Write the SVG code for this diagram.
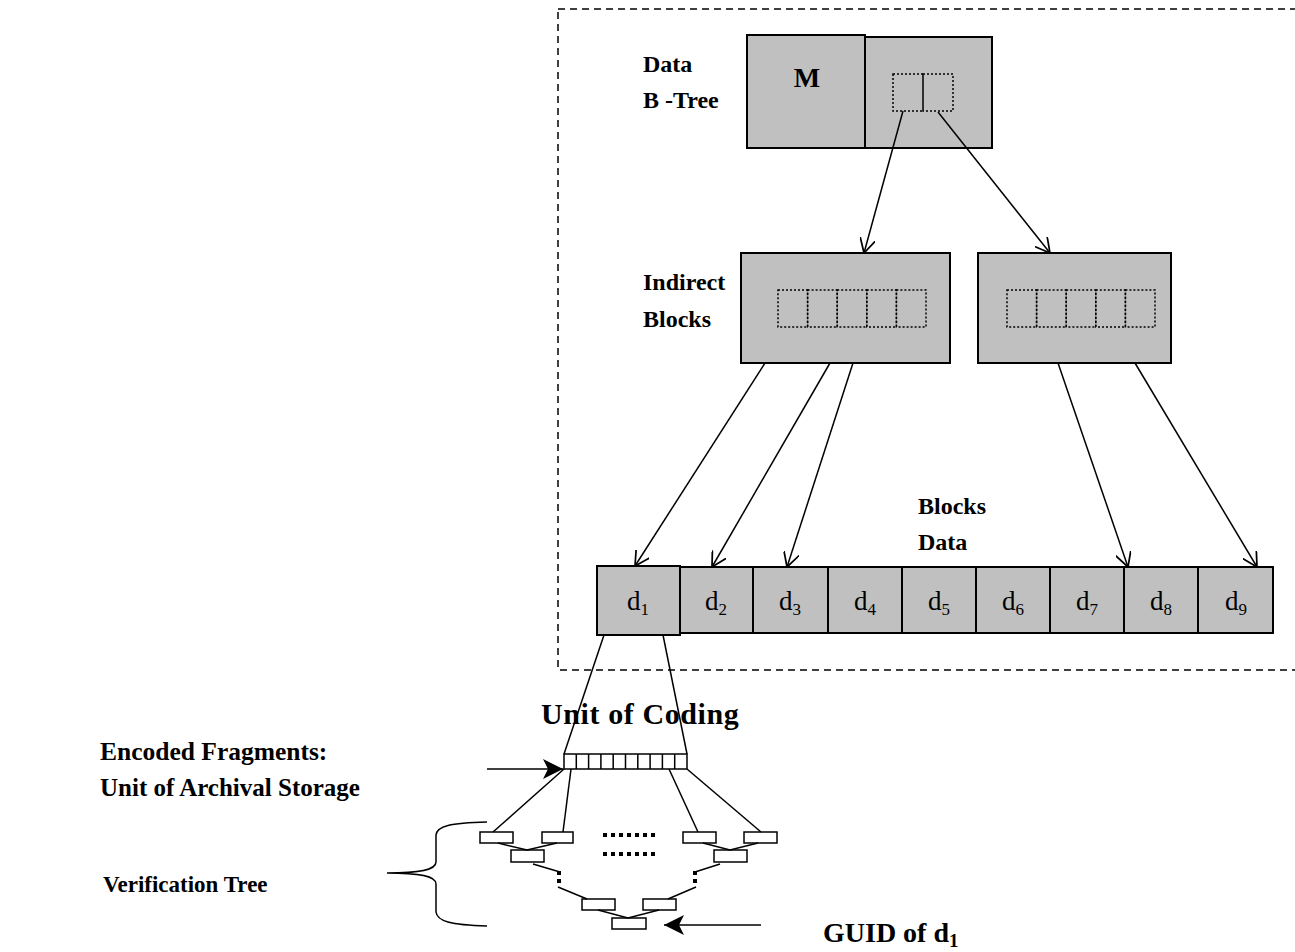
<svg xmlns="http://www.w3.org/2000/svg" width="1295" height="952" viewBox="0 0 1295 952">
<defs>
<style>
.box{fill:#c0c0c0;stroke:#000;stroke-width:2}
.dot{fill:none;stroke:#000;stroke-width:1.5;stroke-dasharray:2 2}
.ln{fill:none;stroke:#000;stroke-width:1.5}
.wb{fill:#fff;stroke:#000;stroke-width:1.5}
.lbl{font-family:"Liberation Serif","Times New Roman",serif;font-weight:bold;font-size:24px;fill:#000}
.dl{font-family:"Liberation Serif","Times New Roman",serif;font-size:27px;fill:#000;text-anchor:middle}
.thd{fill:none;stroke:#000;stroke-width:4;stroke-dasharray:4 4}
</style>
<marker id="open" viewBox="0 0 12 12" refX="11" refY="6" markerWidth="16" markerHeight="16" markerUnits="userSpaceOnUse" orient="auto">
<path d="M0,0 L11,6 L0,12" fill="none" stroke="#000" stroke-width="1.3"/>
</marker>
<marker id="fill" viewBox="0 0 12 12" refX="12" refY="6" markerWidth="20" markerHeight="20" markerUnits="userSpaceOnUse" orient="auto">
<path d="M0,0 L12,6 L0,12 L3,6 Z" fill="#000"/>
</marker>
</defs>
<rect x="558" y="9" width="760" height="661" fill="none" stroke="#000" stroke-width="1.5" stroke-dasharray="7 5"/>

<g id="btree">
<rect class="box" x="747" y="35" width="118" height="113"/>
<rect class="box" x="865" y="37" width="127" height="111"/>
<rect class="dot" x="893" y="74" width="30" height="37"/>
<rect class="dot" x="923" y="74" width="30" height="37"/>
<text class="dl" x="807" y="87" style="font-weight:bold;font-size:28px">M</text>
</g>
<g id="label-btree">
<text class="lbl" x="643" y="72">Data</text>
<text class="lbl" x="643" y="108">B -Tree</text>
</g>

<g id="indirect-left">
<rect class="box" x="741" y="253" width="209" height="110"/>
<rect class="dot" x="778" y="290" width="29.6" height="37"/>
<rect class="dot" x="807.6" y="290" width="29.6" height="37"/>
<rect class="dot" x="837.2" y="290" width="29.6" height="37"/>
<rect class="dot" x="866.8" y="290" width="29.6" height="37"/>
<rect class="dot" x="896.4" y="290" width="29.6" height="37"/>
</g>
<g id="indirect-right">
<rect class="box" x="978" y="253" width="193" height="110"/>
<rect class="dot" x="1007" y="290" width="29.6" height="37"/>
<rect class="dot" x="1036.6" y="290" width="29.6" height="37"/>
<rect class="dot" x="1066.2" y="290" width="29.6" height="37"/>
<rect class="dot" x="1095.8" y="290" width="29.6" height="37"/>
<rect class="dot" x="1125.4" y="290" width="29.6" height="37"/>
</g>
<g id="label-indirect">
<text class="lbl" x="643" y="290">Indirect</text>
<text class="lbl" x="643" y="327">Blocks</text>
</g>

<g id="data-blocks">
<rect class="box" x="680" y="567" width="73" height="66"/>
<rect class="box" x="753" y="567" width="75" height="66"/>
<rect class="box" x="828" y="567" width="74" height="66"/>
<rect class="box" x="902" y="567" width="74" height="66"/>
<rect class="box" x="976" y="567" width="74" height="66"/>
<rect class="box" x="1050" y="567" width="74" height="66"/>
<rect class="box" x="1124" y="567" width="74" height="66"/>
<rect class="box" x="1198" y="567" width="75" height="66"/>
<rect class="box" x="597" y="566" width="83" height="69"/>
<text class="dl" x="638" y="610">d<tspan font-size="17" dy="5">1</tspan></text>
<text class="dl" x="716" y="610">d<tspan font-size="17" dy="5">2</tspan></text>
<text class="dl" x="790" y="610">d<tspan font-size="17" dy="5">3</tspan></text>
<text class="dl" x="865" y="610">d<tspan font-size="17" dy="5">4</tspan></text>
<text class="dl" x="939" y="610">d<tspan font-size="17" dy="5">5</tspan></text>
<text class="dl" x="1013" y="610">d<tspan font-size="17" dy="5">6</tspan></text>
<text class="dl" x="1087" y="610">d<tspan font-size="17" dy="5">7</tspan></text>
<text class="dl" x="1161" y="610">d<tspan font-size="17" dy="5">8</tspan></text>
<text class="dl" x="1236" y="610">d<tspan font-size="17" dy="5">9</tspan></text>
</g>
<g id="label-data">
<text class="lbl" x="918" y="514">Blocks</text>
<text class="lbl" x="918" y="550">Data</text>
</g>

<g id="coding-unit">
<rect class="wb" x="564" y="754" width="123" height="15"/>
<path class="ln" d="M576.3,754V769M588.6,754V769M600.9,754V769M613.2,754V769M625.5,754V769M637.8,754V769M650.1,754V769M662.4,754V769M674.7,754V769"/>
<text class="lbl" x="541" y="724" style="font-size:30px;letter-spacing:0.6px">Unit of Coding</text>
</g>

<g id="verification-tree">
<rect class="wb" x="480" y="832" width="33" height="11"/>
<rect class="wb" x="542" y="832" width="31" height="11"/>
<rect class="wb" x="683" y="832" width="33" height="11"/>
<rect class="wb" x="744" y="832" width="33" height="11"/>
<rect class="wb" x="511" y="850" width="33" height="12"/>
<rect class="wb" x="714" y="850" width="33" height="12"/>
<rect class="wb" x="582" y="899" width="33" height="11"/>
<rect class="wb" x="643" y="899" width="33" height="11"/>
<rect class="wb" x="612" y="918" width="34" height="11"/>
<path class="thd" d="M603,835H658M603,854H658"/>
<path class="thd" d="M559,871V885M695,871V885"/>
<path class="ln" d="M498,843L527,850L557,843M703,843L730,850L758,843"/>
<path class="ln" d="M533,864L560,872M558,887L587,899M720,864L695,872M696,887L668,899"/>
<path class="ln" d="M598,910L628,918L659,910"/>
</g>

<g id="labels-left">
<text class="lbl" x="100" y="760" style="font-size:25.5px">Encoded Fragments:</text>
<text class="lbl" x="100" y="796" style="font-size:25px">Unit of Archival Storage</text>
<text class="lbl" x="103" y="892" style="font-size:23px">Verification Tree</text>
<text class="lbl" x="823" y="942" style="font-size:28px">GUID of d<tspan font-size="19" dy="5">1</tspan></text>
</g>

<g id="brace">
<path class="ln" d="M487,822C450,823 437,826 436,835V862C436,870 420,873 387,873C420,873 436,876 436,884V912C437,921 450,925 487,926"/>
</g>

<g id="connectors">
<line class="ln" x1="903" y1="111" x2="864" y2="253" marker-end="url(#open)"/>
<line class="ln" x1="938" y1="112" x2="1050" y2="253" marker-end="url(#open)"/>
<line class="ln" x1="765" y1="363" x2="635" y2="566" marker-end="url(#open)"/>
<line class="ln" x1="830" y1="363" x2="712" y2="567" marker-end="url(#open)"/>
<line class="ln" x1="853" y1="363" x2="787" y2="567" marker-end="url(#open)"/>
<line class="ln" x1="1058" y1="363" x2="1128" y2="567" marker-end="url(#open)"/>
<line class="ln" x1="1135" y1="363" x2="1257" y2="567" marker-end="url(#open)"/>
<line class="ln" x1="604" y1="635" x2="564" y2="754"/>
<line class="ln" x1="663" y1="635" x2="687" y2="754"/>
<line class="ln" x1="564" y1="769" x2="493" y2="832"/>
<line class="ln" x1="571" y1="769" x2="563" y2="832"/>
<line class="ln" x1="669" y1="769" x2="698" y2="832"/>
<line class="ln" x1="687" y1="769" x2="761" y2="832"/>
<line class="ln" x1="487" y1="769" x2="563" y2="769" marker-end="url(#fill)"/>
<line class="ln" x1="761" y1="925" x2="664" y2="925" marker-end="url(#fill)"/>
</g>
</svg>
